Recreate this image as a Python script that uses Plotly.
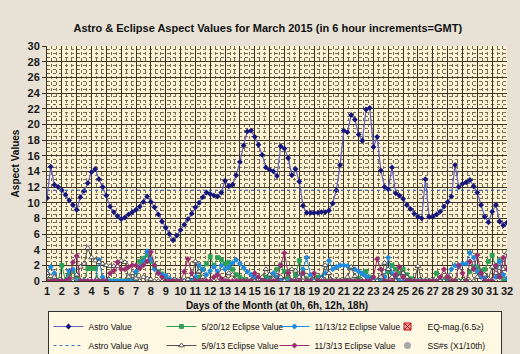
import numpy as np
import plotly.graph_objects as go

# ---- data (4 readings per day: 0h, 6h, 12h, 18h; days 1..31, then day 32 0h) ----
astro_value = [
    10.6, 14.6, 12.3, 12.0,  11.6, 11.0, 10.3, 9.7,   9.1, 10.7, 11.5, 12.5,
    13.9, 14.3, 13.0, 12.0,  10.9, 9.5, 8.8, 8.3,     7.9, 8.1, 8.5, 8.8,
    9.1, 9.5, 10.1, 10.8,    10.1, 9.4, 8.5, 7.6,     6.8, 6.0, 5.2, 5.8,
    6.5, 7.2, 7.9, 8.6,      9.4, 10.0, 10.7, 11.3,   11.1, 10.9, 10.8, 11.3,
    12.8, 12.1, 12.3, 13.5,  15.2, 17.3, 19.1, 19.2,  18.4, 17.4, 16.1, 14.5,
    14.2, 14.0, 13.4, 17.2,  16.9, 15.7, 13.5, 14.3,  12.7, 9.6, 8.7, 8.7,
    8.7, 8.7, 8.8, 8.8,      9.0, 9.9, 11.6, 14.8,    19.2, 19.0, 21.2, 20.6,
    18.7, 17.9, 21.9, 22.1,  17.1, 18.4, 14.1, 12.0,  11.7, 14.5, 11.2, 10.9,
    10.5, 9.7, 9.2, 8.6,     8.2, 8.0, 13.0, 8.2,     8.2, 8.5, 8.85, 9.5,
    10.1, 10.8, 14.8, 12.0,  12.4, 12.6, 12.9, 12.1,  11.3, 9.7, 8.2, 7.5,
    8.85, 9.7, 7.6, 7.1,     7.45,
]
astro_avg_value = 11.6

eclipse_5_20_12 = [
    0, 0, 0, 0,  2.0, 0, 0.9, 1.3,  0.6, 0, 0, 1.6,  1.6, 1.6, 0, 0,
    0, 0, 0, 0,  0, 0, 0, 0,  0, 2.5, 2.9, 3.3,  2.5, 1.8, 1.2, 0.9,
    0.5, 0, 0, 0,  0, 0, 0, 0,  0, 0.5, 1.5, 2.2,  3.1, 2.0, 3.0, 2.7,
    2.2, 2.4, 1.5, 0.8,  0.5, 0.2, 0, 0,  0, 0, 0, 0.5,  0.3, 0, 1.5, 2.0,
    1.2, 0.5, 0, 0.8,  2.6, 1.0, 0.3, 0,  0, 0.5, 0.2, 0,  0, 0, 0, 0,
    0, 0, 0, 0,  0.3, 1.0, 1.2, 0.5,  0, 0, 0, 0,  1.2, 2.0, 1.5, 1.0,
    1.5, 0.8, 0.3, 0,  0, 0, 0, 0,  0, 1.0, 0, 0,  0, 0, 0, 0,
    0, 0, 1.2, 1.8,  1.8, 1.3, 1.5, 2.5,  3.3, 1.8, 2.6, 0,  0,
]
eclipse_11_13_12 = [
    1.0, 1.8, 1.0, 0,  0, 0, 1.3, 1.5,  0, 0, 0, 0,  0, 0, 2.7, 0.5,
    0, 0, 0, 0,  0, 0, 0, 0,  1.2, 1.8, 2.5, 3.8,  2.8, 1.5, 1.0, 0.8,
    0.7, 0.3, 0, 0,  0, 0, 0, 0,  0.5, 2.0, 1.5, 0.8,  1.3, 1.8, 1.2, 2.0,
    1.5, 1.8, 2.3, 2.7,  2.2, 1.7, 1.2, 0.8,  0.5, 0.3, 0, 0,  0.8, 1.0, 0.5, 0.3,
    0, 0, 0, 0,  0.5, 1.5, 3.0, 0.8,  0, 0, 0.5, 1.0,  2.6, 1.5, 1.8, 2.0,
    2.0, 1.9, 1.7, 1.5,  1.2, 0.9, 0.6, 0.3,  0.2, 0, 0, 0.5,  3.0, 1.0, 0.5, 0,
    0, 0, 0, 0,  0, 0, 0, 0,  0, 0, 0, 0,  0.5, 1.5, 2.0, 1.8,
    2.2, 2.2, 3.6, 3.0,  1.2, 0.5, 0.3, 0.2,  0, 0.5, 2.5, 0.8,  0.3,
]
eclipse_5_9_13 = [
    1.0, 0.6, 0.5, 0,  0, 0, 0, 0,  0.8, 1.8, 2.2, 4.2,  3.0, 2.6, 2.4, 2.2,
    2.0, 1.9, 1.9, 1.9,  2.6, 2.4, 0.5, 1.0,  0.3, 0, 0.5, 0.3,  0.2, 0, 0, 0,
    0, 0, 0, 0,  0, 0, 0.2, 0.5,  2.5, 1.2, 0.5, 0,  0, 0, 0, 0,
    0.3, 1.0, 0.8, 0,  0, 0, 0, 0,  0, 0.2, 0.5, 1.5,  0.8, 0.3, 0, 0.5,
    0, 1.2, 1.5, 1.3,  0.5, 0, 0, 0,  0, 0, 0.3, 2.0,  1.0, 0, 0, 0,
    0, 0.5, 1.8, 0.6,  0, 0, 0, 0,  0, 0, 0.5, 2.3,  1.5, 0.5, 0, 0.5,
    1.0, 0.5, 0, 0,  1.9, 0, 0, 0,  0, 0, 0, 0,  0.7, 0.2, 0, 0,
    0, 0, 0, 0,  0.5, 1.0, 0.8, 0.3,  1.8, 1.0, 0.5, 1.5,  3.6,
]
eclipse_11_3_13 = [
    0, 0, 0, 0,  0, 0, 0.3, 2.4,  3.2, 0, 0, 0,  0, 0, 0, 0,
    0, 1.0, 1.3, 2.4,  1.5, 1.5, 1.8, 2.0,  2.0, 1.6, 2.0, 2.5,  3.7, 2.0, 1.0, 0.5,
    0, 0, 0, 0,  0, 1.2, 2.8, 1.0,  0, 0, 0, 0,  0, 0.5, 0.8, 0.3,
    0, 0, 0, 0,  0, 0, 0, 0,  1.0, 0.5, 0, 0,  0, 0, 0, 2.0,
    3.6, 1.0, 0, 0,  0, 1.0, 0, 0,  1.0, 0, 0, 0,  0, 0, 0, 0,
    0, 0, 0, 0,  0, 0, 0, 0,  0.5, 2.8, 1.5, 0,  0, 0, 0.8, 1.8,
    0.5, 0, 0, 0,  0, 0, 0, 0,  0, 0, 0.5, 1.5,  0.5, 0, 0, 2.0,
    1.0, 0, 2.5, 1.5,  3.3, 1.0, 0, 0,  0, 2.0, 0.5, 3.0,  1.5,
]
# no earthquake / sunspot readings plotted this month (blank cells)
eq_mag = [None] * len(astro_value)
ss_numbers = [None] * len(astro_value)

day_ticks = list(range(1, 33))
readings_per_day = 4

title_text = "Astro & Eclipse Aspect Values for March 2015 (in 6 hour increments=GMT)"
x_title = "Days of the Month (at 0h, 6h, 12h, 18h)"
y_title = "Aspect Values"

# ---- figure ----
days = 1 + np.arange(len(astro_value)) / readings_per_day

FONT = "Liberation Sans, Arial, sans-serif"
fig = go.Figure()

def eclipse(name, vals, color, symbol, mfill, mline, size=4):
    return go.Scatter(
        x=days, y=vals, name=name, mode="lines+markers",
        line=dict(color=color, width=1),
        marker=dict(symbol=symbol, size=size, color=mfill,
                    line=dict(color=mline, width=0.8)),
    )

# legend order (row-wise, 4 per row)
fig.add_trace(go.Scatter(
    x=days, y=astro_value, name="Astro Value", mode="lines+markers",
    line=dict(color="#6464C0", width=1.2),
    marker=dict(symbol="diamond", size=4.5, color="#16167A"),
))
fig.add_trace(eclipse("5/20/12 Eclipse Value", eclipse_5_20_12, "#2AA055", "square", "#2AA055", "#2AA055"))
fig.add_trace(eclipse("11/13/12 Eclipse Value", eclipse_11_13_12, "#1E8AE0", "diamond", "#1E8AE0", "#1E8AE0"))
fig.add_trace(go.Scatter(
    x=days, y=eq_mag, name="EQ-mag.(6.5≥)", mode="markers",
    marker=dict(symbol="square-x", size=7, color="#F0B0B0", line=dict(color="#C00000", width=1)),
))
fig.add_trace(go.Scatter(
    x=[days[0], days[-1]], y=[astro_avg_value, astro_avg_value],
    name="Astro Value Avg", mode="lines",
    line=dict(color="#3C78C8", width=1, dash="dot"),
))
fig.add_trace(eclipse("5/9/13 Eclipse Value", eclipse_5_9_13, "#555555", "triangle-up", "#FFFFFF", "#333333", 5))
fig.add_trace(eclipse("11/3/13 Eclipse Value", eclipse_11_3_13, "#9B2D6E", "diamond", "#9B2D6E", "#9B2D6E"))
fig.add_trace(go.Scatter(
    x=days, y=ss_numbers, name="SS#s (X1/10th)", mode="markers",
    marker=dict(symbol="circle", size=7, color="#A8A8A8"),
))

axis_font = dict(family=FONT, size=11, color="#1A1A1A")
fig.update_layout(
    width=520, height=354,
    margin=dict(l=47, r=13, t=46, b=73, autoexpand=False),
    paper_bgcolor="#E7E1D6",
    plot_bgcolor="#FCF2D6",
    font=dict(family=FONT, size=10, color="#111111"),
    title=dict(text="<b>" + title_text + "</b>", x=0.515, xanchor="center",
               y=0.92, yanchor="middle", font=dict(family=FONT, size=11, color="#111111")),
    showlegend=True,
    legend=dict(
        orientation="h", xref="container", yref="container",
        x=(52 + 497) / 2 / 520, xanchor="center", y=1 - 311 / 354, yanchor="top",
        bgcolor="#FFF8E2", bordercolor="#333333", borderwidth=1,
        entrywidth=68, entrywidthmode="pixels", itemwidth=30,
        font=dict(family=FONT, size=8.5, color="#111111"),
        traceorder="normal", tracegroupgap=0,
    ),
)
fig.update_xaxes(
    range=[1, 32], tickmode="array", tickvals=day_ticks,
    ticktext=["<b>%d</b>" % d for d in day_ticks], tickangle=0,
    showgrid=True, gridcolor="#3E3220", gridwidth=1,
    minor=dict(dtick=1/3, tick0=1, showgrid=True, gridcolor="#7A6A50", griddash="dot", gridwidth=1),
    showline=True, linecolor="#3E3220", linewidth=1,
    ticks="", tickfont=axis_font, zeroline=False,
    title=dict(text="<b>" + x_title + "</b>", font=dict(family=FONT, size=10), standoff=5),
)
fig.update_yaxes(
    range=[0, 30],
    tickvals=list(range(0, 31, 2)),
    ticktext=["<b>%d</b>" % v for v in range(0, 31, 2)],
    showgrid=True, gridcolor="#3E3220", gridwidth=1,
    minor=dict(dtick=0.5, tick0=0, showgrid=True, gridcolor="#7A6A50", griddash="dot", gridwidth=1),
    showline=True, linecolor="#3E3220", linewidth=1,
    ticks="outside", ticklen=4, tickcolor="#3E3220",
    tickfont=axis_font, zeroline=False,
    title=dict(text="<b>" + y_title + "</b>", font=dict(family=FONT, size=10), standoff=6),
)

fig.write_html("out.html")
